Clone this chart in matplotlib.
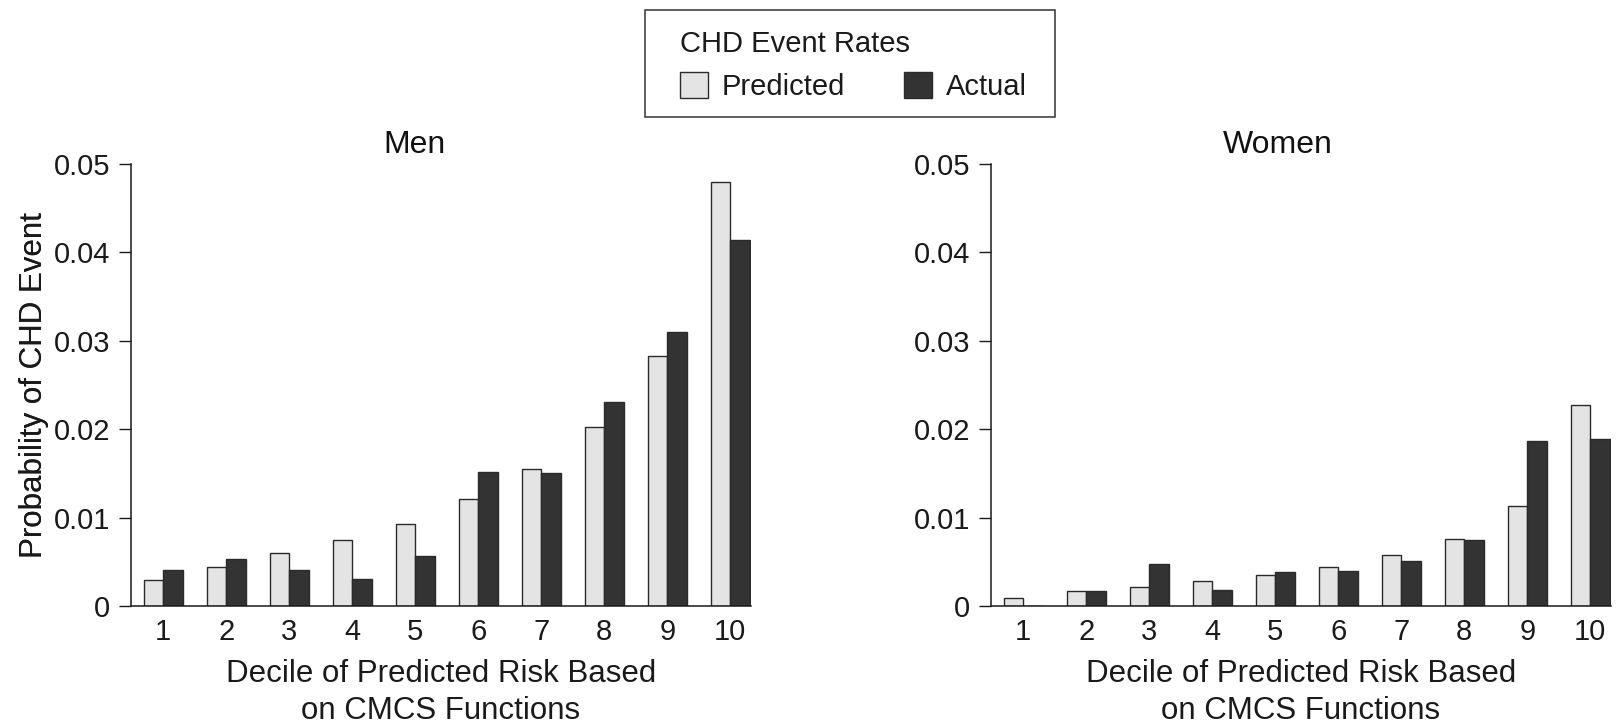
import matplotlib
matplotlib.use("Agg")
import matplotlib.pyplot as plt
from matplotlib.patches import Rectangle
import numpy as np

deciles = [1, 2, 3, 4, 5, 6, 7, 8, 9, 10]
tick_labels = ["1", "2", "3", "4", "5", "6", "7", "8", "9", "10"]
men_predicted = [0.0029, 0.0044, 0.0060, 0.0075, 0.0093, 0.0121, 0.0155, 0.0203, 0.0283, 0.0480]
men_actual = [0.0041, 0.0053, 0.0041, 0.0030, 0.0056, 0.0152, 0.0151, 0.0231, 0.0310, 0.0414]
women_predicted = [0.0009, 0.0017, 0.0021, 0.0028, 0.0035, 0.0044, 0.0058, 0.0076, 0.0113, 0.0227]
women_actual = [0.0000, 0.0017, 0.0047, 0.0018, 0.0039, 0.0040, 0.0051, 0.0075, 0.0187, 0.0189]
yticks = [0, 0.01, 0.02, 0.03, 0.04, 0.05]
ytick_labels = ["0", "0.01", "0.02", "0.03", "0.04", "0.05"]

plt.rcParams['font.family'] = ['Liberation Sans', 'DejaVu Sans']

W, H = 1619, 725
fig = plt.figure(figsize=(W / 100, H / 100), dpi=100)

pred_color = "#e4e4e4"
act_color = "#333333"
edge = "#2a2a2a"
txt = "#1a1a1a"
bw = 0.31

def panel(left_px, right_px, pred, act, title, title_x_px):
    ax = fig.add_axes([left_px / W, (H - 606) / H, (right_px - left_px) / W, (606 - 164) / H])
    x = np.array(deciles, dtype=float)
    b1 = ax.bar(x - bw / 2, pred, width=bw, color=pred_color, edgecolor=edge, linewidth=1.0, label="Predicted")
    b2 = ax.bar(x + bw / 2, act, width=bw, color=act_color, edgecolor=edge, linewidth=1.0, label="Actual")
    ax.set_xlim(0.49, 10.33)
    ax.set_ylim(0, 0.05)
    ax.set_xticks(deciles)
    ax.set_xticklabels(tick_labels, fontsize=21, color=txt)
    ax.set_yticks(yticks)
    ax.set_yticklabels(ytick_labels, fontsize=21, color=txt)
    ax.tick_params(axis="x", length=0, pad=9)
    ax.tick_params(axis="y", length=9, width=1.0, pad=6, color=txt)
    for s in ["top", "right"]:
        ax.spines[s].set_visible(False)
    for s in ["left", "bottom"]:
        ax.spines[s].set_linewidth(1.1)
        ax.spines[s].set_color(txt)
    ax.set_xlabel("Decile of Predicted Risk Based\non CMCS Functions", fontsize=22.5,
                  labelpad=9, color=txt, linespacing=1.3)
    ax.set_ylabel("Probability of CHD Event", fontsize=22.5, color=txt)
    ax.yaxis.set_label_coords(-(left_px - 49) / (right_px - left_px), 0.5)
    fig.text(title_x_px / W, (H - 145) / H, title, fontsize=23, ha="center", va="center", color="#111111")
    return ax, b1, b2

ax1, b1, b2 = panel(131, 751, men_predicted, men_actual, "Men", 414)
ax2, _, _ = panel(991, 1611, women_predicted, women_actual, "Women", 1278)

leg = fig.legend(handles=[b1, b2], labels=["Predicted", "Actual"], ncol=2,
                 title="CHD Event Rates", loc="upper left", bbox_to_anchor=(680 / W, 1 - 30 / H),
                 fontsize=21, title_fontsize=21, frameon=False,
                 handlelength=0.96, handleheight=1.0, handletextpad=0.48,
                 columnspacing=2.0, borderpad=0, borderaxespad=0, labelspacing=0.48)
leg._legend_box.align = "left"
for t in leg.get_texts():
    t.set_color(txt)
leg.get_title().set_color(txt)

fig.add_artist(Rectangle((645 / W, 1 - 117 / H), 410 / W, 107 / H, transform=fig.transFigure,
                         fill=False, edgecolor="#333333", linewidth=1.1))

fig.savefig("out.png", dpi=100)
